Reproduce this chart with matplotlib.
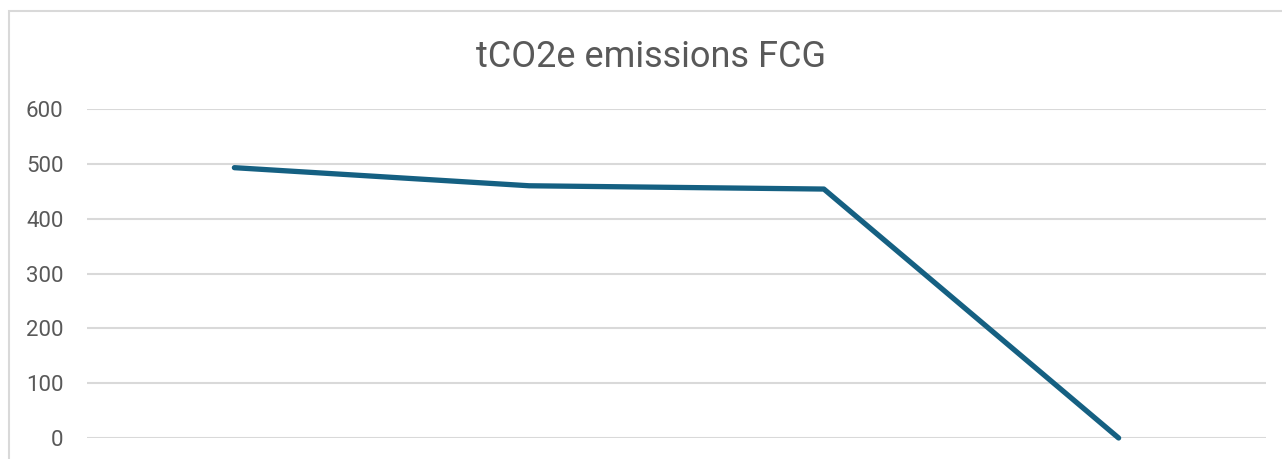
import matplotlib.pyplot as plt
from matplotlib.patches import Rectangle

# data
categories = ["1", "2", "3", "4"]
emissions = [493, 460, 454, 0]
yticks = [0, 100, 200, 300, 400, 500, 600]

plt.rcParams['font.family'] = ['Roboto', 'DejaVu Sans']

fig = plt.figure(figsize=(12.82, 4.59), dpi=100)
ax = fig.add_axes([87/1282, (459-438)/459, (1266-87)/1282, (438-109)/459])

x = range(len(categories))
ax.plot(x, emissions, color='#156082', linewidth=3.8, solid_capstyle='round',
        solid_joinstyle='round', clip_on=False)

ax.set_xlim(-0.5, len(categories) - 0.5)
ax.set_ylim(0, 600)
ax.set_yticks(yticks)
ax.set_yticklabels([str(v) for v in yticks], fontsize=16, color='#595959')
ax.set_xticks([])
ax.tick_params(axis='y', length=0, pad=17)
ax.grid(axis='y', color='#d9d9d9', linewidth=1.5)
ax.set_axisbelow(True)
for s in ax.spines.values():
    s.set_visible(False)

fig.text(651/1282, 1 - 57/459, "tCO2e emissions FCG", ha='center', va='center',
         fontsize=26, color='#595959')

# chart border (cropped at right and bottom)
fig.patches.append(Rectangle((9/1282, -0.1), 1.2, (459-11)/459 + 0.1,
                             transform=fig.transFigure, fill=False,
                             edgecolor='#d9d9d9', linewidth=1.5))

fig.savefig('out.png', dpi=100)
